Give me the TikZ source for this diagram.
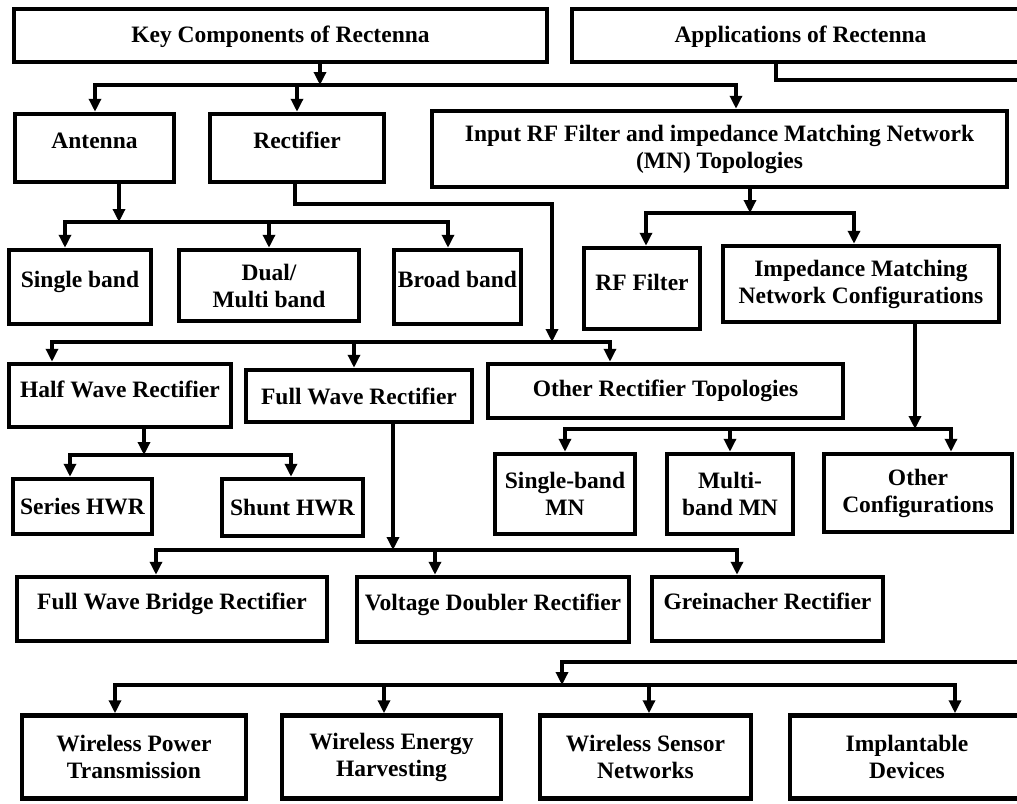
\documentclass[tikz,border=0pt]{standalone}
\usepackage{fontspec}
\setmainfont{Liberation Serif}
\usetikzlibrary{arrows.meta,calc}
\begin{document}
\begin{tikzpicture}[x=1pt,y=-1pt,
  bx/.style={draw, line width=4.5pt, inner sep=0pt, align=center,
    font=\bfseries\fontsize{23.5}{27}\selectfont},
  ln/.style={line width=4pt, line cap=rect},
  ar/.style={line width=4pt, line cap=rect, -{Triangle[length=13pt,width=12pt]}},
]
\useasboundingbox (0,0) rectangle (1017,803);

% boxes
\node[bx, minimum width=533pt, minimum height=53pt, text height=16pt, text depth=3pt] (key) at (280.5,35.5) {Key Components of Rectenna};
\node[bx, minimum width=457pt, minimum height=53pt, text height=16pt, text depth=3pt] (app) at (800.5,35.5) {Applications of Rectenna};

\node[bx, minimum width=159pt, minimum height=68pt, text height=16pt, text depth=15pt] (ant) at (94.5,148) {Antenna};
\node[bx, minimum width=174pt, minimum height=68pt, text height=16pt, text depth=15pt] (rect) at (297,148) {Rectifier};
\node[bx, minimum width=575pt, minimum height=76pt] (inrf) at (719.5,149) {Input RF Filter and impedance Matching Network\\(MN) Topologies};

\node[bx, minimum width=142pt, minimum height=74pt, text height=16pt, text depth=15pt] (single) at (80,287) {Single band};
\node[bx, minimum width=180pt, minimum height=71pt] (dual) at (269,285.5) {Dual/\\Multi band};
\node[bx, minimum width=127pt, minimum height=74pt, text height=16pt, text depth=15pt] (broad) at (457.5,287) {Broad band};
\node[bx, minimum width=116pt, minimum height=81pt, text height=16pt, text depth=12pt] (rff) at (642,288.5) {RF Filter};
\node[bx, minimum width=276pt, minimum height=76pt] (imn) at (861,284) {Impedance Matching\\Network Configurations};

\node[bx, minimum width=222pt, minimum height=63pt, text height=16pt, text depth=13pt] (half) at (120,395.5) {Half Wave Rectifier};
\node[bx, minimum width=226pt, minimum height=52pt] (full) at (359,396) {Full Wave Rectifier};
\node[bx, minimum width=355pt, minimum height=54pt] (other) at (665.5,391) {Other Rectifier Topologies};

\node[bx, minimum width=139pt, minimum height=55pt] (series) at (82.5,506.5) {Series HWR};
\node[bx, minimum width=141pt, minimum height=57pt] (shunt) at (292.5,507.5) {Shunt HWR};
\node[bx, minimum width=140pt, minimum height=80pt] (smn) at (565,494) {Single-band\\MN};
\node[bx, minimum width=126pt, minimum height=80pt] (mmn) at (730,494) {Multi-\\band MN};
\node[bx, minimum width=188pt, minimum height=78pt] (ocf) at (918,493) {Other\\Configurations};

\node[bx, minimum width=310pt, minimum height=64pt, text height=16pt, text depth=15pt] (fwb) at (172,609) {Full Wave Bridge Rectifier};
\node[bx, minimum width=272pt, minimum height=65pt, text height=16pt, text depth=15pt] (vdr) at (493,609.5) {Voltage Doubler Rectifier};
\node[bx, minimum width=231pt, minimum height=64pt, text height=16pt, text depth=15pt] (grc) at (767.5,609) {Greinacher Rectifier};

\node[bx, minimum width=224pt, minimum height=83pt] (wpt) at (134,757) {Wireless Power\\Transmission};
\node[bx, minimum width=219pt, minimum height=83pt] (weh) at (391.5,757) {Wireless Energy\\Harvesting};
\node[bx, minimum width=211pt, minimum height=83pt] (wsn) at (645.5,757) {Wireless Sensor\\Networks};
\node[bx, minimum width=234pt, minimum height=83pt] (imp) at (907,757) {Implantable\\Devices};

% bus 1: key components
\coordinate (b1L) at (95,85); \coordinate (b1R) at (736,85);
\draw[ar] (320,0 |- key.south) -- (320,0 |- b1L);
\draw[ln] (b1L) -- (b1R);
\draw[ar] (b1L) -- (b1L |- ant.north);
\draw[ar] (rect.north |- b1L) -- (rect.north);
\draw[ar] (b1R) -- (b1R |- inrf.north);

% bus 2: antenna
\coordinate (b2L) at (65,222); \coordinate (b2R) at (448,222);
\draw[ar] (119,0 |- ant.south) -- (119,0 |- b2L);
\draw[ln] (b2L) -- (b2R);
\draw[ar] (b2L) -- (b2L |- single.north);
\draw[ar] (dual.north |- b2L) -- (dual.north);
\draw[ar] (b2R) -- (b2R |- broad.north);

% bus 3: rectifier
\coordinate (b3L) at (52,342); \coordinate (b3R) at (610,342);
\coordinate (r1) at (295,204); \coordinate (r2) at (552,204);
\draw[ar] (r1 |- rect.south) -- (r1) -- (r2) -- (r2 |- b3L);
\draw[ln] (b3L) -- (b3R);
\draw[ar] (b3L) -- (b3L |- half.north);
\draw[ar] (354,0 |- b3L) -- (354,0 |- full.north);
\draw[ar] (b3R) -- (b3R |- other.north);

% bus 4: input RF filter / MN
\coordinate (b4L) at (646,213); \coordinate (b4R) at (854,213);
\draw[ar] (750,0 |- inrf.south) -- (750,0 |- b4L);
\draw[ln] (b4L) -- (b4R);
\draw[ar] (b4L) -- (b4L |- rff.north);
\draw[ar] (b4R) -- (b4R |- imn.north);

% bus 5: impedance matching configurations
\coordinate (b5L) at (565,429); \coordinate (b5R) at (951,429);
\draw[ar] (915,0 |- imn.south) -- (915,0 |- b5L);
\draw[ln] (b5L) -- (b5R);
\draw[ar] (b5L) -- (b5L |- smn.north);
\draw[ar] (mmn.north |- b5L) -- (mmn.north);
\draw[ar] (b5R) -- (b5R |- ocf.north);

% bus 6: half wave
\coordinate (b6L) at (70,455); \coordinate (b6R) at (291,455);
\draw[ar] (144,0 |- half.south) -- (144,0 |- b6L);
\draw[ln] (b6L) -- (b6R);
\draw[ar] (b6L) -- (b6L |- series.north);
\draw[ar] (b6R) -- (b6R |- shunt.north);

% bus 7: full wave
\coordinate (b7L) at (156,550); \coordinate (b7R) at (737,550);
\draw[ar] (393,0 |- full.south) -- (393,0 |- b7L);
\draw[ln] (b7L) -- (b7R);
\draw[ar] (b7L) -- (b7L |- fwb.north);
\draw[ar] (435,0 |- b7L) -- (435,0 |- vdr.north);
\draw[ar] (b7R) -- (b7R |- grc.north);

% bus 8: applications
\coordinate (b8L) at (115,685); \coordinate (b8R) at (955,685);
\coordinate (a1) at (776,80); \coordinate (a2) at (1030,80);
\coordinate (a3) at (1030,662); \coordinate (a4) at (562,662);
\draw[ar] (a1 |- app.south) -- (a1) -- (a2) -- (a3) -- (a4) -- (a4 |- b8L);
\draw[ln] (b8L) -- (b8R);
\draw[ar] (b8L) -- (b8L |- wpt.north);
\draw[ar] (384,0 |- b8L) -- (384,0 |- weh.north);
\draw[ar] (649,0 |- b8L) -- (649,0 |- wsn.north);
\draw[ar] (b8R) -- (b8R |- imp.north);
\end{tikzpicture}
\end{document}
